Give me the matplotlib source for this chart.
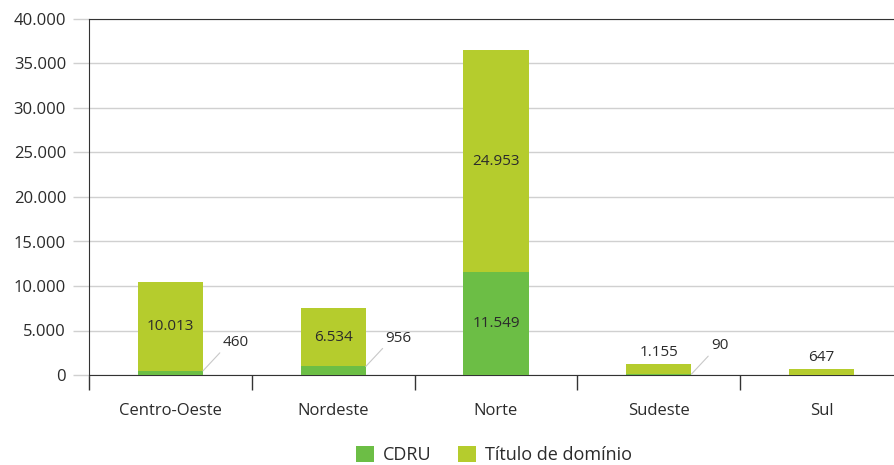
import numpy as np
import matplotlib.pyplot as plt

plt.rcParams['font.family'] = ['Open Sans', 'DejaVu Sans']

regioes = ['Centro-Oeste', 'Nordeste', 'Norte', 'Sudeste', 'Sul']
cdru = [460, 956, 11549, 90, 0]
titulo = [10013, 6534, 24953, 1155, 647]
y_ticks = [0, 5000, 10000, 15000, 20000, 25000, 30000, 35000, 40000]

cor_cdru = '#6cbe45'
cor_titulo = '#b5cc2d'
cor_texto = '#2b2b2b'


def fmt(v):
    return f'{v:,}'.replace(',', '.')


fig = plt.figure(figsize=(8.95, 4.65), dpi=100)
ax = fig.add_axes([89 / 895, 90 / 465, (903 - 89) / 895, 356 / 465])

x = np.arange(len(regioes))
w = 0.4
ax.bar(x, cdru, w, color=cor_cdru, label='CDRU', zorder=3)
ax.bar(x, titulo, w, bottom=cdru, color=cor_titulo, label='Título de domínio', zorder=3)

ax.set_xlim(-0.5, len(regioes) - 0.5)
ax.set_ylim(0, 40000)
ax.set_yticks(y_ticks)
ax.set_yticklabels([fmt(v) for v in y_ticks], fontsize=12, color=cor_texto)
ax.grid(axis='y', color='#d0d0d0', linewidth=1, zorder=0)
ax.tick_params(axis='y', length=11.5, width=1, color='#d0d0d0', pad=5)
for t in (ax.yaxis.get_major_ticks()[0], ax.yaxis.get_major_ticks()[-1]):
    t.tick1line.set_color('#333333')

ax.set_xticks(x)
ax.set_xticklabels(regioes, fontsize=12, color=cor_texto)
ax.tick_params(axis='x', length=0, pad=20)
ax.set_xticks(np.arange(-0.5, len(regioes)), minor=True)
ax.tick_params(axis='x', which='minor', length=11, width=1, color='#333333')

ax.spines['right'].set_visible(False)
ax.spines['top'].set_color('#333333')
ax.spines['left'].set_color('#333333')
ax.spines['bottom'].set_color('#333333')

for i in range(len(regioes)):
    # rótulo do título de domínio
    if titulo[i] > 3000:
        ax.text(x[i], cdru[i] + titulo[i] / 2, fmt(titulo[i]), ha='center', va='center',
                fontsize=11, color=cor_texto, zorder=4)
    else:
        ax.annotate(fmt(titulo[i]), (x[i], cdru[i] + titulo[i]), xytext=(0, 3),
                    textcoords='offset points', ha='center', va='bottom',
                    fontsize=11, color=cor_texto)
    # rótulo do CDRU
    if cdru[i] > 3000:
        ax.text(x[i], cdru[i] / 2, fmt(cdru[i]), ha='center', va='center',
                fontsize=11, color=cor_texto, zorder=4)
    elif cdru[i] > 0:
        ax.annotate(fmt(cdru[i]), (x[i] + w / 2, cdru[i]), xytext=(14, 15),
                    textcoords='offset points', ha='left', va='bottom',
                    fontsize=11, color=cor_texto,
                    arrowprops=dict(arrowstyle='-', color='#c8c8c8', lw=0.8,
                                    relpos=(0, 0), shrinkA=0, shrinkB=0))

fig.legend(loc='center', bbox_to_anchor=(494 / 895, 1 - 455 / 465), ncol=2, frameon=False,
           fontsize=13, handlelength=0.95, handleheight=0.95, handletextpad=0.5,
           columnspacing=1.5, labelcolor=cor_texto, borderpad=0)

fig.savefig('out.png', dpi=100)
